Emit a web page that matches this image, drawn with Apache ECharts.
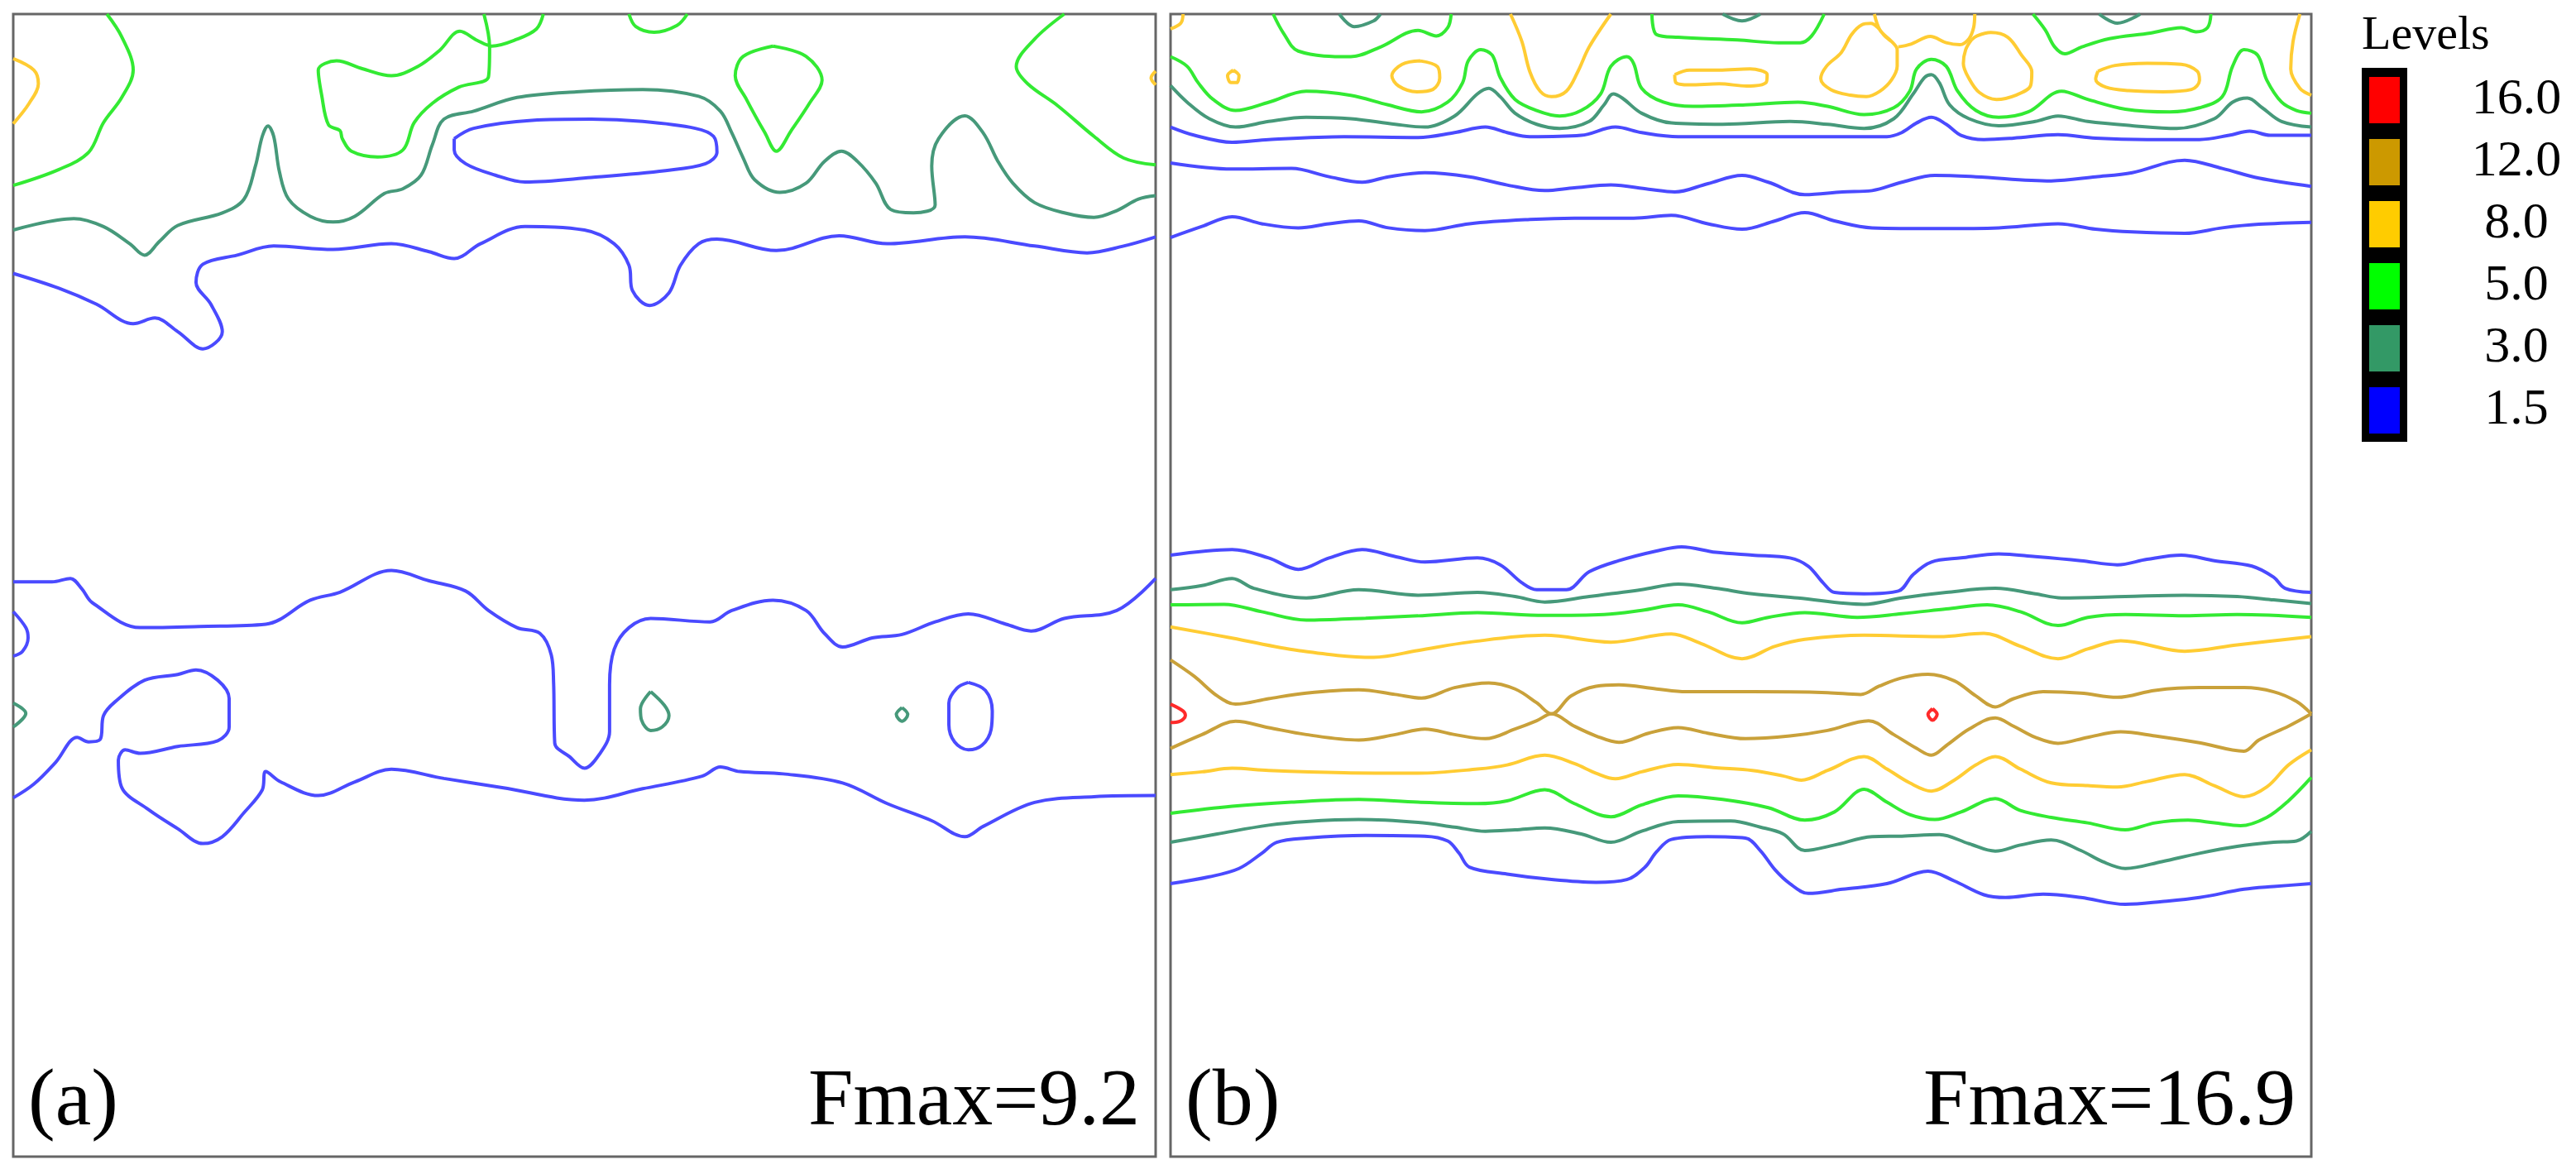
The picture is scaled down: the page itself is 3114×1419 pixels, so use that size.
<!DOCTYPE html>
<html>
<head>
<meta charset="utf-8">
<title>Contour levels</title>
<script src="https://cdn.jsdelivr.net/npm/echarts@6/dist/echarts.min.js"></script>
<style>
  html, body { margin: 0; padding: 0; background: #fff; }
  #chart { width: 3114px; height: 1419px; }
</style>
</head>
<body>
<div id="chart"></div>
<script>
// level legend
const LEVELS = ['16.0', '12.0', '8.0', '5.0', '3.0', '1.5'];
const LEVEL_FILL = ['#ff0000', '#cc9900', '#ffcc00', '#00ff00', '#339966', '#0000ff'];
const PANEL_TAGS = ['(a)', '(b)'];
const PANEL_FMAX = ['Fmax=9.2', 'Fmax=16.9'];

function zip(xs, ys) { return xs.map((x, i) => [x, ys[i]]); }

// panel (a) contours, x 0..100 left to right, y 0..100 top to bottom
const aYellow1 = [[0,3.9],[1.8,4.9],[2.2,6.1],[1.4,7.8],[0,9.6]];
const aYellow2 = [[100,5.0],[99.6,5.6],[100,6.2]];

const aGreen1 = [[8.2,0],[9.5,2.0],[10.5,4.9],[9.5,7.3],[7.9,9.5],[6.6,12.1],[4.0,13.6],[0,15.0]];
const aGreen2 = [[41.2,0],[41.7,2.9],[41.6,5.5],[39.0,6.4],[36.7,7.8],[35.1,9.5],[34.1,11.9],[31.9,12.5],[29.6,12.0],[28.8,10.9],[28.6,10.2],[27.6,9.7],[27.0,7.1],[26.7,4.9],[28.3,4.1],[30.6,4.8],[33.1,5.4],[35.4,4.6],[37.3,3.2],[39.1,1.5],[40.6,2.3],[41.9,2.8],[44.1,2.2],[45.8,1.3],[46.4,0]];
const aGreen3 = [[53.9,0],[54.5,1.1],[56.1,1.6],[58.1,1.0],[59.0,0]];
const aGreen4 = [[66.5,2.8],[69.4,3.7],[70.8,5.8],[69.7,7.8],[68.1,10.2],[66.8,12.0],[65.8,10.4],[64.2,7.5],[63.2,5.4],[63.9,3.7],[66.5,2.8]];
const aGreen5 = [[92.0,0],[89.4,2.2],[87.8,4.6],[88.8,6.1],[91.4,8.0],[94.6,10.7],[97.2,12.6],[100,13.2]];

const aTeal1 = [[0,18.9],[5.3,17.9],[7.9,18.6],[10.2,20.1],[11.5,21.1],[12.8,19.9],[14.4,18.5],[18.3,17.4],[20.2,16.2],[21.2,13.3],[21.8,10.7],[22.3,9.8],[22.8,10.7],[23.3,13.8],[24.1,16.2],[26.0,17.7],[28.0,18.2],[29.9,17.7],[32.5,15.7],[34.1,15.3],[35.7,14.1],[36.7,11.4],[37.7,9.2],[40.3,8.5],[44.1,7.3],[49.3,6.8],[55.1,6.6],[60.0,7.2],[61.9,8.5],[62.9,10.4],[63.9,12.6],[64.9,14.5],[67.1,15.6],[69.4,14.8],[71.0,12.9],[72.5,12.0],[73.9,12.9],[75.5,14.8],[76.8,17.1],[78.8,17.4],[80.7,16.7],[80.4,13.3],[81.0,10.9],[83.3,8.9],[84.9,10.4],[86.2,12.9],[87.5,14.8],[89.4,16.5],[92.0,17.4],[94.6,17.8],[96.6,17.2],[98.5,16.2],[100,15.9]];
const aTeal2 = [[55.8,59.3],[57.0,60.5],[57.4,61.4],[56.8,62.4],[55.8,62.7],[55.0,61.8],[54.9,60.8],[55.8,59.3]];
const aTeal3 = [[77.8,60.7],[78.3,61.3],[77.8,61.9],[77.3,61.3],[77.8,60.7]];
const aTeal4 = [[0,60.3],[1.1,61.2],[0,62.4]];

const aBlue1 = [[38.6,10.9],[40.3,10.0],[45.4,9.3],[50.6,9.2],[55.1,9.4],[59.7,10.0],[61.3,10.7],[61.6,12.1],[60.6,13.1],[57.1,13.7],[50.6,14.3],[44.8,14.7],[42.2,14.1],[39.6,13.1],[38.6,11.9],[38.6,10.9]];
const aBlue2 = [[0,22.7],[4.0,24.0],[7.3,25.4],[10.5,27.1],[12.4,26.6],[14.4,27.8],[16.6,29.3],[18.3,27.8],[17.3,25.4],[16.0,23.5],[16.6,21.9],[19.6,21.1],[22.8,20.3],[28.0,20.6],[33.1,20.1],[36.4,20.8],[38.6,21.4],[40.9,20.1],[44.8,18.6],[50.0,18.9],[52.6,20.1],[53.9,22.0],[54.2,24.2],[55.7,25.5],[57.4,24.4],[58.4,22.0],[60.0,20.1],[61.6,19.7],[66.8,20.7],[72.3,19.4],[76.5,20.1],[83.3,19.5],[89.4,20.3],[94.0,20.9],[97.2,20.3],[100,19.5]];
const aBlue3 = [[0,49.7],[3.4,49.7],[5.0,49.4],[6.0,50.3],[6.9,51.5],[11.1,53.7],[16.3,53.6],[22.1,53.4],[26.0,51.3],[28.6,50.6],[33.1,48.7],[36.4,49.6],[39.6,50.5],[41.6,52.2],[44.1,53.7],[46.1,54.2],[47.1,56.1],[47.3,58.5],[47.4,63.8],[48.7,65.0],[50.0,66.0],[51.3,64.8],[52.2,62.8],[52.2,58.7],[52.6,55.6],[53.9,53.7],[55.8,52.9],[61.0,53.2],[62.9,52.2],[66.5,51.3],[69.4,52.2],[71.0,54.2],[72.6,55.4],[75.2,54.6],[77.8,54.3],[80.7,53.2],[83.6,52.5],[86.9,53.4],[89.1,54.0],[92.0,52.9],[96.6,52.2],[100,49.4]];
const aBlue4 = [[0,52.3],[1.1,53.7],[1.3,54.6],[0.8,55.8],[0,56.2]];
const aBlue5 = [[0,68.6],[1.8,67.4],[3.7,65.5],[5.6,63.3],[6.6,63.7],[7.6,63.5],[7.9,61.4],[8.9,60.2],[11.5,58.3],[14.4,57.8],[16.0,57.4],[17.9,58.3],[18.9,59.9],[18.9,62.4],[17.9,63.6],[14.4,64.1],[11.1,64.7],[9.8,64.4],[9.2,65.3],[9.5,67.7],[11.8,69.6],[14.4,71.3],[16.6,72.6],[18.3,72.0],[20.2,69.9],[21.8,67.9],[22.1,66.3],[23.4,67.2],[26.7,68.4],[29.9,67.2],[33.1,66.1],[37.7,66.9],[42.8,67.7],[50.0,68.8],[55.1,67.8],[60.3,66.7],[61.9,65.9],[63.6,66.3],[67.4,66.5],[72.6,67.3],[76.5,69.1],[80.4,70.6],[83.3,72.0],[84.9,71.1],[89.4,69.0],[94.6,68.5],[100,68.4]];
const aBlue6 = [[83.6,58.5],[85.1,59.2],[85.7,61.0],[85.6,62.6],[84.8,64.0],[83.6,64.4],[82.4,63.7],[81.9,62.2],[81.9,60.3],[82.6,59.0],[83.6,58.5]];

// panel (b) contours, upper band
const bYellow1 = [[1.1,0],[0.9,0.8],[0,1.3]];
const bYellow2 = [[5.5,4.9],[6.0,5.4],[5.8,6.0],[5.3,6.0],[5.0,5.4],[5.5,4.9]];
const bYellow3 = [[21.9,4.1],[23.4,4.6],[23.6,5.6],[23.0,6.6],[21.6,6.8],[20.0,6.3],[19.4,5.4],[20.3,4.4],[21.9,4.1]];
const bYellow4 = [[29.8,0],[30.8,2.4],[31.5,5.05],[32.4,6.75],[33.4,7.23],[34.7,6.75],[35.7,5.05],[36.7,2.88],[38.6,0]];
const bYellow5 = [[44.2,5.3],[45.5,4.9],[48.1,4.9],[50.8,4.8],[52.3,5.3],[52.2,6.0],[50.5,6.3],[48.1,6.1],[45.5,6.2],[44.3,6.0],[44.2,5.3]];
const bYellow6 = [[61.7,0],[62.2,1.42],[63.2,2.39],[63.7,3.12],[63.7,4.57],[63.2,5.77],[62.2,6.74],[61.0,7.22],[59.6,7.1],[57.9,6.62],[57.0,5.65],[57.5,4.57],[58.8,3.36],[59.7,1.79],[60.6,0.94],[61.4,0.82],[62.0,1.18],[62.6,1.91],[63.2,2.39]];
const bYellow7 = [[63.8,2.87],[64.9,2.63],[66.6,1.96],[68.0,2.51],[69.2,2.68],[70.0,2.15],[70.4,1.18],[70.5,0]];
const bYellow8 = [[70.2,2.27],[70.7,1.91],[71.9,1.62],[73.4,2.03],[74.6,3.6],[75.5,5.05],[75.4,6.26],[74.1,7.1],[72.4,7.47],[70.9,6.86],[70.0,5.65],[69.5,4.32],[69.7,3.12],[70.2,2.27]];
const bYellow9 = [[81.3,5.0],[82.8,4.5],[85.6,4.3],[88.6,4.4],[90.0,5.0],[90.2,5.8],[89.5,6.6],[87.0,6.8],[84.0,6.7],[82.0,6.4],[81.1,5.7],[81.3,5.0]];
const bYellow10 = [[99.0,0],[98.4,2.4],[98.2,4.8],[99.0,6.5],[100,7.1]];

const bGreen1 = [[9.0,0],[9.9,1.67],[11.2,3.24],[15.8,3.73],[18.4,2.88],[21.7,1.43],[23.3,1.91],[24.3,1.19],[24.6,0]];
const bGreen2 = [[42.2,0],[42.6,1.79],[44.5,2.03],[49.7,2.27],[53.3,2.51],[55.2,2.51],[56.2,1.91],[57.3,0]];
const bGreen3 = [[75.6,0],[76.7,1.42],[77.5,2.87],[78.4,3.48],[79.9,2.87],[82.3,2.15],[85.9,1.66],[88.6,1.19],[89.9,1.55],[90.9,1.19],[91.2,0]];
const bGreen4 = zip(
  [0,1.45,2.43,3.73,5.69,8.63,11.9,15.8,19.07,22.0,24.3,25.6,26.1,27.2,28.2,28.9,30.2,32.1,34.1,36.0,37.7,38.6,40.0,40.6,41.3,43.2,45.8,50.4,55.0,57.6,60.8,63.4,64.8,65.4,66.7,68.0,69.0,70.6,72.6,75.2,78.1,80.4,83.7,87.6,90.2,92.2,93.1,94.1,95.3,96.1,97.4,98.7,100],
  [3.73,4.57,6.02,7.47,8.44,7.71,6.75,7.11,7.95,8.56,7.71,6.02,4.09,3.12,3.6,5.54,7.47,8.44,8.92,8.44,6.99,4.57,3.73,4.33,6.5,7.71,8.08,7.95,7.71,8.08,8.8,8.2,6.75,4.81,3.97,4.57,6.75,8.44,9.04,8.56,6.75,7.47,8.32,8.56,8.2,7.23,4.57,3.12,3.6,5.78,7.71,8.44,8.68]);

const bTeal1 = [[14.8,0],[16.1,1.1],[17.8,0.6],[18.4,0]];
const bTeal2 = [[48.4,0],[50.1,0.6],[51.7,0]];
const bTeal3 = [[81.4,0],[83.0,0.8],[85.0,0]];
const bTeal4 = zip(
  [0,1.45,3.4,5.7,8.6,11.9,15.8,19.7,22.3,24.9,26.9,27.9,28.9,30.2,32.1,34.1,36.7,38.0,38.8,39.6,41.3,43.9,48.4,54.3,57.6,60.8,63.4,65.1,66.1,66.7,67.4,68.3,70.0,72.6,75.8,77.8,80.4,84.3,88.2,91.5,93.1,94.4,95.7,97.4,100],
  [6.26,7.71,9.16,9.89,9.4,9.04,9.16,9.65,9.89,8.92,6.99,6.5,7.23,8.68,9.65,10.01,9.4,7.95,6.99,7.35,8.68,9.53,9.65,9.4,9.65,10.01,9.16,6.99,5.54,5.3,6.02,7.95,9.16,9.77,9.4,8.92,9.4,9.77,10.01,9.16,7.71,7.35,8.2,9.4,9.89]);

const bBlue1 = zip(
  [0,2.1,5.4,8.6,15.2,21.7,24.9,27.6,29.5,31.5,36.0,39.0,41.3,44.5,51.0,57.6,62.8,64.1,65.4,66.7,68.0,69.3,71.3,73.9,77.8,81.1,85.6,90.2,92.8,94.6,96.4,100],
  [9.89,10.61,11.22,10.98,10.73,10.8,10.37,9.89,10.37,10.73,10.61,9.89,10.37,10.73,10.73,10.73,10.73,10.37,9.53,9.04,9.65,10.61,10.98,10.86,10.56,10.86,10.98,10.98,10.61,10.25,10.61,10.61]);
const bBlue2 = zip(
  [0,5.4,10.6,13.9,16.8,19.1,22.3,26.2,29.5,32.8,35.4,38.6,41.9,44.2,47.1,50.1,52.4,55.6,58.9,61.5,64.1,67.0,70.6,77.2,81.1,84.3,88.9,92.2,95.4,100],
  [13.03,13.56,13.51,14.24,14.72,14.24,13.88,14.24,14.96,15.45,15.2,14.96,15.33,15.57,14.84,14.12,14.72,15.81,15.57,15.45,14.72,14.12,14.24,14.6,14.24,13.88,12.79,13.51,14.36,15.08]);
const bBlue3 = zip(
  [0,2.76,5.4,8.0,11.2,13.9,16.5,19.1,22.3,26.2,31.5,35.4,40.6,43.9,47.1,50.1,53.0,55.6,58.2,61.5,67.4,72.6,77.8,81.1,84.3,88.9,92.2,95.4,100],
  [19.56,18.59,17.74,18.35,18.71,18.35,18.1,18.71,18.95,18.35,17.98,17.86,17.86,17.62,18.35,18.83,18.1,17.38,18.1,18.71,18.78,18.71,18.35,18.83,19.07,19.19,18.71,18.4,18.23]);

// panel (b) contours, lower band
const bBlue4 = zip(
  [0,5.4,8.6,11.2,13.9,16.8,19.7,22.3,26.9,28.9,30.8,32.1,34.7,36.7,39.3,42.6,44.8,47.8,51.0,54.3,55.9,57.2,58.2,60.8,63.8,65.1,66.7,69.3,72.6,75.8,79.8,83.0,85.6,88.6,91.5,94.8,96.7,97.7,100],
  [47.36,46.87,47.6,48.6,47.6,46.87,47.48,47.96,47.6,48.2,49.77,50.38,50.38,48.81,47.84,46.99,46.63,47.11,47.36,47.6,48.32,49.77,50.62,50.74,50.5,49.05,47.96,47.6,47.24,47.48,47.84,48.2,47.72,47.36,47.84,48.32,49.29,50.26,50.62]);
const bTeal5 = zip(
  [0,2.76,5.4,7.3,11.9,16.5,21.7,26.9,30.2,32.8,36.7,41.3,44.5,47.8,51.0,55.0,60.8,64.1,68.0,72.3,75.8,78.1,83.7,88.9,93.5,96.7,100],
  [50.38,50.02,49.41,50.26,51.1,50.38,50.86,50.62,50.98,51.46,50.98,50.38,49.89,50.26,50.74,51.1,51.66,51.1,50.62,50.26,50.74,51.1,50.98,50.86,50.98,51.27,51.59]);
const bGreen5 = zip(
  [0,4.7,8.0,11.9,17.1,21.7,26.9,32.8,38.0,41.3,44.5,47.1,50.1,52.4,55.6,60.2,64.1,68.0,71.6,74.5,77.8,80.4,83.7,88.9,93.5,100],
  [51.71,51.66,52.31,53.04,52.87,52.67,52.39,52.63,52.55,52.19,51.71,52.31,53.28,52.8,52.39,52.8,52.48,52.07,51.71,52.31,53.52,52.8,52.55,52.67,52.55,52.8]);
const bYellow11 = zip(
  [0,5.4,11.2,17.8,21.7,26.2,32.8,38.6,43.9,46.5,50.1,53.0,55.6,60.8,67.4,71.3,74.5,77.8,80.4,83.3,88.9,93.5,100],
  [53.64,54.61,55.7,56.3,55.7,54.97,54.37,54.97,54.25,55.09,56.42,55.33,54.73,54.37,54.49,54.2,55.33,56.42,55.57,54.85,55.77,55.21,54.49]);
const bBrown1 = zip(
  [0,2.1,4.1,5.7,8.6,11.9,16.5,19.7,22.0,24.9,27.9,30.2,32.1,33.4,35.1,37.3,39.3,42.6,45.2,51.0,57.6,60.5,62.1,64.1,66.4,68.7,70.6,72.3,73.9,76.5,79.8,83.0,86.3,90.2,94.1,96.7,98.7,100],
  [56.53,57.98,59.68,60.4,59.92,59.43,59.14,59.55,59.87,58.95,58.54,59.07,60.28,61.25,59.68,58.83,58.71,59.07,59.31,59.31,59.39,59.55,58.83,58.1,57.79,58.35,59.68,60.64,59.92,59.31,59.43,59.8,59.19,58.95,58.95,59.31,60.16,61.25]);
const bBrown2 = zip(
  [0,2.76,5.7,8.6,11.9,16.5,19.7,22.3,24.9,27.6,30.2,32.1,33.4,35.4,37.3,39.3,41.9,44.5,47.1,50.4,54.3,57.6,61.2,63.4,65.4,66.7,68.0,70.0,72.3,73.9,75.8,77.8,80.4,83.3,86.3,90.2,94.1,95.4,98.0,100],
  [64.27,63.06,61.9,62.45,63.06,63.54,63.06,62.58,63.06,63.42,62.58,61.85,61.25,62.33,63.18,63.74,62.94,62.45,62.94,63.42,63.18,62.7,61.85,63.06,64.27,64.87,64.03,62.58,61.61,62.33,63.3,63.83,63.3,62.82,63.18,63.78,64.51,63.54,62.33,61.25]);
const bRed1 = [[0,60.4],[1.1,61.0],[1.3,61.4],[0.8,61.9],[0,62.0]];
const bRed2 = [[66.8,60.8],[67.2,61.3],[66.8,61.8],[66.4,61.3],[66.8,60.8]];
const bYellow12 = zip(
  [0,2.76,5.4,8.6,15.2,21.7,26.9,29.5,32.8,35.4,37.3,39.0,41.3,44.5,47.8,51.0,53.7,55.3,57.6,60.8,62.8,64.8,66.7,68.7,70.6,72.3,74.5,77.2,80.4,83.0,85.6,88.9,91.5,94.1,96.1,98.0,100],
  [66.56,66.32,66.01,66.2,66.4,66.44,66.08,65.72,64.87,65.6,66.44,66.93,66.32,65.67,65.96,66.2,66.68,67.05,66.2,64.99,66.08,67.29,68.01,67.05,65.72,64.99,66.08,67.29,67.53,67.65,67.17,66.56,67.53,68.5,67.65,65.72,64.39]);
const bGreen6 = zip(
  [0,5.4,10.6,16.5,21.7,26.9,29.5,32.8,35.4,38.6,41.3,44.5,48.4,52.4,55.6,58.2,60.8,62.8,64.8,67.0,69.3,72.3,74.5,77.2,80.4,83.7,86.3,89.2,91.5,93.8,96.1,98.0,100],
  [69.95,69.34,68.98,68.74,68.98,69.1,68.86,67.89,69.1,70.26,69.22,68.42,68.74,69.46,70.55,69.83,67.85,68.98,70.07,70.5,69.83,68.67,69.71,70.31,70.79,71.4,70.79,70.55,70.79,71.04,70.31,68.86,66.81]);
const bTeal6 = zip(
  [0,4.1,8.6,11.9,16.5,21.7,24.9,27.6,30.2,32.8,36.0,38.6,41.3,44.5,49.1,51.7,53.7,55.6,58.2,61.5,64.1,67.4,70.0,72.3,74.5,77.2,79.8,81.7,83.7,86.9,90.2,93.5,96.7,98.7,100],
  [72.49,71.76,70.99,70.67,70.5,70.75,71.16,71.52,71.4,71.23,71.76,72.49,71.52,70.67,70.62,71.16,71.76,73.21,72.73,72.0,71.95,71.81,72.61,73.26,72.73,72.29,73.21,74.18,74.78,74.18,73.45,72.85,72.49,72.37,71.52]);
const bBlue5 = zip(
  [0,3.4,6.0,8.0,9.3,11.9,17.1,22.3,24.3,25.3,26.2,29.5,33.4,37.3,40.0,41.6,42.6,43.9,47.1,50.4,51.7,53.0,54.3,55.9,58.9,62.8,66.4,68.7,71.3,73.2,76.5,79.8,83.7,86.9,90.2,94.1,96.7,100],
  [76.11,75.51,74.78,73.45,72.49,72.12,71.88,71.95,72.37,73.45,74.66,75.27,75.75,75.99,75.75,74.66,73.33,72.24,72.0,72.12,73.21,74.9,76.11,76.96,76.6,76.11,75.02,75.87,77.08,77.32,77.03,77.32,77.92,77.68,77.32,76.6,76.36,76.11]);

// which level each contour belongs to
const panelA = [
  ['1.5', aBlue1], ['1.5', aBlue2], ['1.5', aBlue3], ['1.5', aBlue4], ['1.5', aBlue5], ['1.5', aBlue6],
  ['3.0', aTeal1], ['3.0', aTeal2], ['3.0', aTeal3], ['3.0', aTeal4],
  ['5.0', aGreen1], ['5.0', aGreen2], ['5.0', aGreen3], ['5.0', aGreen4], ['5.0', aGreen5],
  ['8.0', aYellow1], ['8.0', aYellow2]
];
const panelB = [
  ['1.5', bBlue1], ['1.5', bBlue2], ['1.5', bBlue3], ['1.5', bBlue4], ['1.5', bBlue5],
  ['3.0', bTeal1], ['3.0', bTeal2], ['3.0', bTeal3], ['3.0', bTeal4], ['3.0', bTeal5], ['3.0', bTeal6],
  ['5.0', bGreen1], ['5.0', bGreen2], ['5.0', bGreen3], ['5.0', bGreen4], ['5.0', bGreen5], ['5.0', bGreen6],
  ['8.0', bYellow1], ['8.0', bYellow2], ['8.0', bYellow3], ['8.0', bYellow4], ['8.0', bYellow5],
  ['8.0', bYellow6], ['8.0', bYellow7], ['8.0', bYellow8], ['8.0', bYellow9], ['8.0', bYellow10],
  ['8.0', bYellow11], ['8.0', bYellow12],
  ['12.0', bBrown1], ['12.0', bBrown2],
  ['16.0', bRed1], ['16.0', bRed2]
];

// line colours (slightly softer than the legend swatches, like the anti-aliased strokes)
const LINE_COLOR = {
  '16.0': '#ff2a2a', '12.0': '#c9a13a', '8.0': '#ffcc33',
  '5.0': '#33ea33', '3.0': '#46997a', '1.5': '#4a4aff'
};

const chart = echarts.init(document.getElementById('chart'));
const FONT = '"Liberation Serif", "Times New Roman", serif';

function contourSeries(list, idx) {
  return list.map(([lv, pts]) => ({
    type: 'line',
    xAxisIndex: idx, yAxisIndex: idx,
    data: pts,
    showSymbol: false,
    smooth: 0.35,
    silent: true,
    lineStyle: { color: LINE_COLOR[lv], width: 4 }
  }));
}

const grids = [
  { left: 16, top: 17, width: 1381, height: 1381 },
  { left: 1415, top: 17, width: 1379, height: 1381 }
];

const axisX = i => ({ type: 'value', gridIndex: i, min: 0, max: 100, show: false });
const axisY = i => ({ type: 'value', gridIndex: i, min: 0, max: 100, inverse: true, show: false });

// legend box and panel captions
const graphics = [];
graphics.push({ type: 'text', style: { text: 'Levels', x: 2855, y: 44, font: '58px ' + FONT, fill: '#000', verticalAlign: 'middle', textVerticalAlign: 'middle' } });
graphics.push({ type: 'rect', shape: { x: 2855, y: 82, width: 55, height: 452 }, style: { fill: '#000' } });
LEVELS.forEach((lv, i) => {
  graphics.push({ type: 'rect', shape: { x: 2864, y: 93 + i * 75, width: 37, height: 56 }, style: { fill: LEVEL_FILL[i] } });
  graphics.push({ type: 'text', style: { text: lv, x: 3042, y: 121 + i * 75, font: '62px ' + FONT, fill: '#000',
    align: 'center', textAlign: 'center', verticalAlign: 'middle', textVerticalAlign: 'middle' } });
});
grids.forEach((g, i) => {
  graphics.push({ type: 'text', style: { text: PANEL_TAGS[i], x: g.left + 18, y: 1333, font: '98px ' + FONT, fill: '#000',
    verticalAlign: 'middle', textVerticalAlign: 'middle' } });
  graphics.push({ type: 'text', style: { text: PANEL_FMAX[i], x: g.left + g.width - 19, y: 1333, font: '98px ' + FONT, fill: '#000',
    align: 'right', textAlign: 'right', verticalAlign: 'middle', textVerticalAlign: 'middle' } });
});

chart.setOption({
  backgroundColor: '#fff',
  animation: false,
  grid: grids.map(g => Object.assign({ show: true, borderColor: '#666', borderWidth: 3, backgroundColor: '#fff' }, g)),
  xAxis: [axisX(0), axisX(1)],
  yAxis: [axisY(0), axisY(1)],
  series: contourSeries(panelA, 0).concat(contourSeries(panelB, 1)),
  graphic: graphics
});
window.addEventListener('resize', () => chart.resize());
</script>
</body>
</html>
